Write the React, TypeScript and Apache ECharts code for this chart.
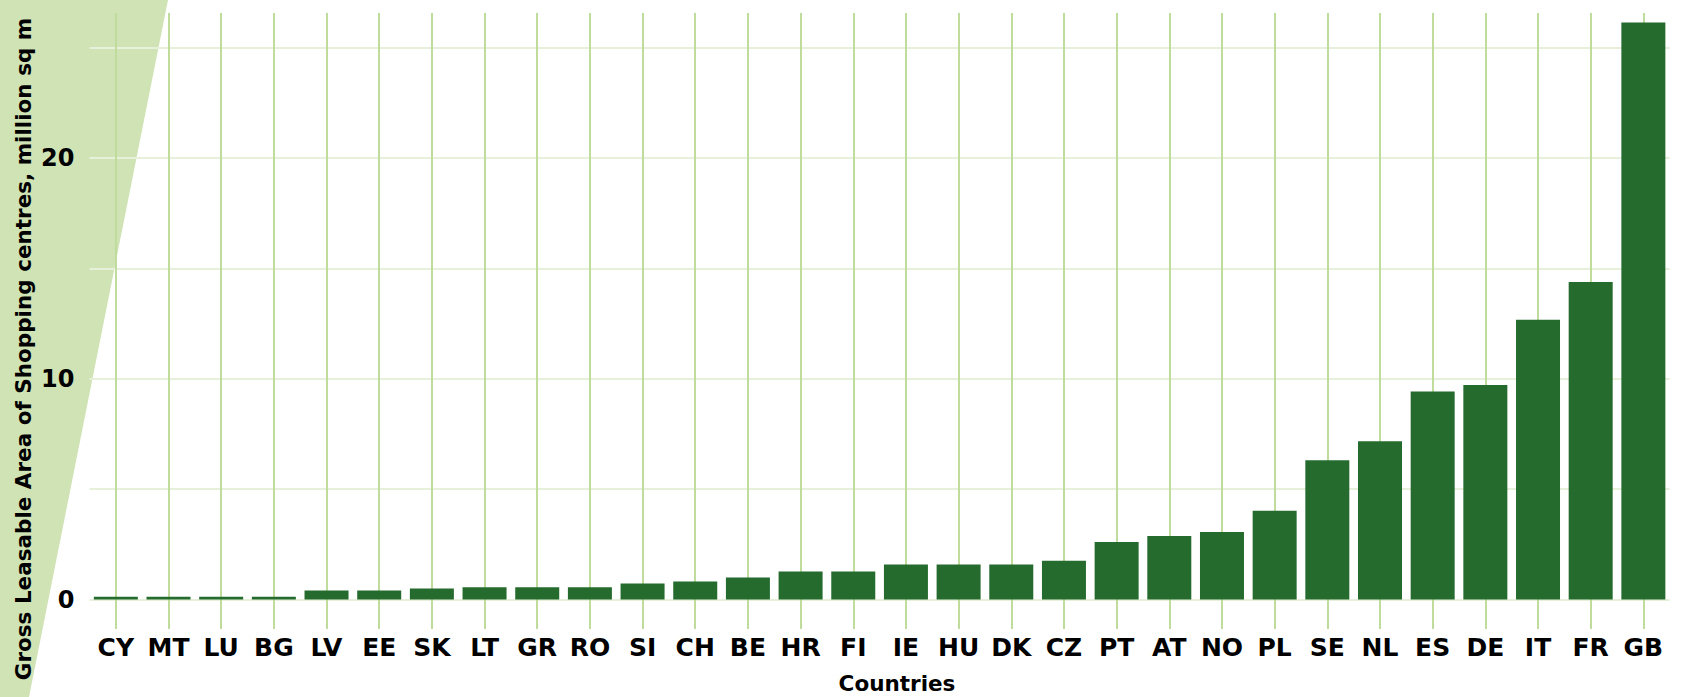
import React, { useEffect, useRef } from "react";
import * as echarts from "echarts";

const countries = ["CY","MT","LU","BG","LV","EE","SK","LT","GR","RO","SI","CH","BE","HR","FI","IE","HU","DK","CZ","PT","AT","NO","PL","SE","NL","ES","DE","IT","FR","GB"];
const gla = [0.13,0.13,0.13,0.13,0.41,0.41,0.5,0.55,0.55,0.55,0.72,0.81,1.0,1.27,1.27,1.58,1.58,1.58,1.76,2.6,2.87,3.06,4.02,6.31,7.17,9.42,9.71,12.67,14.38,26.13];
const yTickLabels = [0, 10, 20];
const yTitle = "Gross Leasable Area of Shopping centres, million sq m";
const xTitle = "Countries";

const FONT = "'DejaVu Sans', 'Open Sans', sans-serif";
const BAR = "#256b2e";
const VLINE = "#bfdc9d";
const HLINE = "#e7f0db";

export default function App() {
  const ref = useRef<HTMLDivElement>(null);
  useEffect(() => {
    document.body.style.margin = "0";
    const chart = echarts.init(ref.current!, null, { renderer: "svg" });
    chart.setOption({
      animation: false,
      grid: { left: 89.5, right: 11.3, top: 13, bottom: 97.5 },
      graphic: [
        {
          type: "polygon",
          z: -10,
          shape: { points: [[0, 0], [168, 0], [29, 697], [0, 697]] },
          style: { fill: "#cfe3b5" },
          silent: true,
        },
        {
          type: "text",
          x: 23,
          y: 349,
          rotation: Math.PI / 2,
          z: 10,
          style: {
            text: yTitle,
            fontFamily: FONT,
            fontWeight: "bold",
            fontSize: 21.5,
            lineHeight: 22,
            fill: "#000",
            align: "center",
            verticalAlign: "middle",
          },
        },
        {
          type: "text",
          x: 897,
          y: 683,
          z: 10,
          style: {
            text: xTitle,
            fontFamily: FONT,
            fontWeight: "bold",
            fontSize: 21.5,
            lineHeight: 22,
            fill: "#000",
            align: "center",
            verticalAlign: "middle",
          },
        },
      ],
      xAxis: [
        {
          type: "category",
          position: "bottom",
          data: countries,
          z: 1,
          axisLine: { show: false },
          axisTick: { show: false },
          splitLine: { show: false },
          axisLabel: {
            interval: 0,
            margin: 35,
            fontFamily: FONT,
            fontWeight: "bold",
            fontSize: 25,
            lineHeight: 26,
            color: "#000",
          },
        },
        {
          type: "category",
          position: "top",
          data: countries,
          z: 1,
          axisLine: { show: false },
          axisLabel: { show: false },
          splitLine: { show: false },
          axisTick: {
            show: true,
            inside: true,
            alignWithLabel: true,
            interval: 0,
            length: 616,
            lineStyle: { color: VLINE, width: 2 },
          },
        },
      ],
      yAxis: {
        type: "value",
        min: 0,
        max: 26.56,
        interval: 5,
        z: 0,
        axisLine: { show: false },
        axisTick: { show: false },
        splitLine: {
          show: true,
          lineStyle: {
            color: [HLINE, HLINE, HLINE, HLINE, HLINE, HLINE, "rgba(0,0,0,0)"],
            width: 2,
          },
        },
        axisLabel: {
          margin: 15,
          fontFamily: FONT,
          fontWeight: "bold",
          fontSize: 24,
          color: "#000",
          showMaxLabel: false,
          formatter: (v: number) => (yTickLabels.indexOf(v) >= 0 ? String(v) : ""),
        },
      },
      series: [
        {
          type: "bar",
          xAxisIndex: 0,
          data: gla,
          barWidth: 44,
          z: 3,
          itemStyle: { color: BAR },
        },
      ],
    });
    return () => chart.dispose();
  }, []);
  return (
    <div
      ref={ref}
      style={{ position: "absolute", left: 0, top: 0, width: 1681, height: 697 }}
    />
  );
}
